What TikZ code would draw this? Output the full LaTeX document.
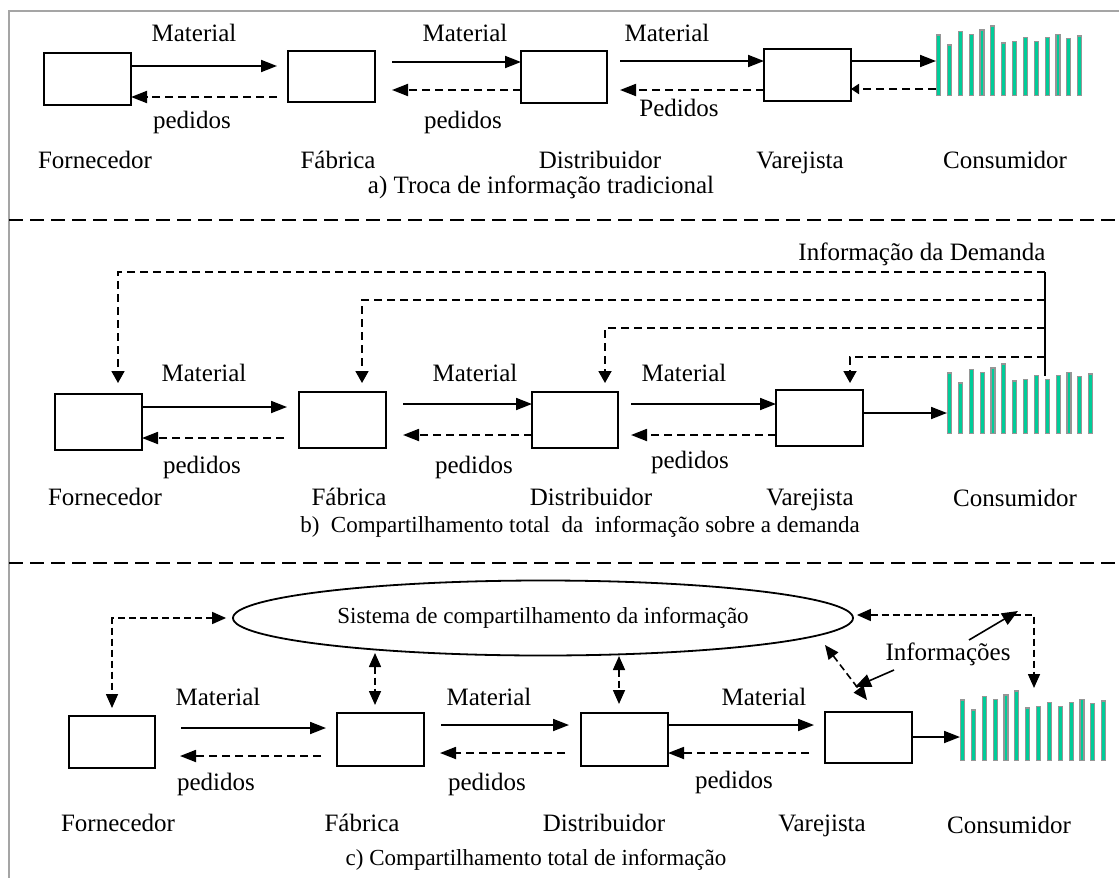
\documentclass[tikz,border=0pt]{standalone}
\usepackage{fontspec}
\setmainfont{Liberation Serif}
\usetikzlibrary{arrows.meta,calc,shapes.geometric}
\definecolor{barfill}{RGB}{0,204,153}
\definecolor{baredge}{RGB}{150,150,150}
\definecolor{framegray}{RGB}{165,165,165}

\tikzset{
  box/.style={draw, line width=1.8pt, inner sep=0pt, outer sep=0pt, anchor=north west},
  flow/.style={line width=1.8pt, -{Triangle[length=16pt,width=12pt]}},
  back/.style={flow, dash pattern=on 8pt off 5pt},
  backsmall/.style={line width=1.8pt, dash pattern=on 8pt off 5pt, -{Triangle[length=8pt,width=10pt]}},
  info/.style={line width=1.8pt, dash pattern=on 8pt off 5pt, -{Triangle[length=12pt,width=13pt]}},
  link/.style={line width=1.6pt, dash pattern=on 7pt off 4pt,
    {Triangle[length=14pt,width=12pt]}-{Triangle[length=14pt,width=12pt]}},
  note/.style={line width=1.6pt, -{Triangle[length=16pt,width=13pt]}},
  lbl/.style={font=\fontsize{25}{30}\selectfont, inner sep=0pt, text height=17pt, text depth=5pt},
  sm/.style={font=\fontsize{23}{28}\selectfont, inner sep=0pt, text height=16pt, text depth=5pt},
  sepline/.style={line width=1.8pt, dash pattern=on 14pt off 7pt},
  bar/.style={fill=barfill, draw=baredge, line width=1.2pt},
}

% consumer demand bars, left end at the given coordinate (bottom)
\newcommand\demandbars[1]{%
  \foreach \h [count=\i from 0] in {60.5,50.5,64,61,65.5,69.5,52.5,54,58,54,58,61,57,59.5}
    \draw[bar] ($(#1)+(0.6+\i*10.85,-0.6)$) rectangle ++(4,-\h);}

\begin{document}
\begin{tikzpicture}[x=1pt,y=-1pt]
\useasboundingbox (0,0) rectangle (1119,878);

% outer frame and section separators
\draw[framegray, line width=1.5pt] (9,878) -- (9,11) -- (1119,11);
\draw[sepline] (9,220) -- (1119,220);
\draw[sepline] (9,563) -- (1119,563);

% ---------------- a) traditional exchange ----------------
\node[box, minimum width=87pt, minimum height=52pt] (a1) at (44,53) {};
\node[box, minimum width=87pt, minimum height=51pt] (a2) at (288,51) {};
\node[box, minimum width=86pt, minimum height=52pt] (a3) at (521,51) {};
\node[box, minimum width=87pt, minimum height=52pt] (a4) at (764,49) {};
\coordinate (ka) at (936,96);
\demandbars{ka}

\draw[flow] (a1.east|-0,66) -- ($(a2.west|-0,66)+(-11,0)$);
\draw[back] ($(a2.west|-0,97)+(-11,0)$) -- (a1.east|-0,97);
\draw[flow] ($(a2.east|-0,62)+(17,0)$) -- (a3.west|-0,62);
\draw[back] (a3.west|-0,90) -- ($(a2.east|-0,90)+(17,0)$);
\draw[flow] ($(a3.east|-0,61)+(13,0)$) -- (a4.west|-0,61);
\draw[back] (a4.west|-0,90) -- ($(a3.east|-0,90)+(13,0)$);
\draw[flow] (a4.east|-0,61) -- (ka|-0,61);
\draw[backsmall] (ka|-0,89) -- (a4.east|-0,89);

\node[lbl] (am1) at (194,35.5) {Material};
\node[lbl] (am2) at (465,35.5) {Material};
\node[lbl] (am3) at (667,35.5) {Material};
\node[lbl] (ap1) at (192,122) {pedidos};
\node[lbl] (ap2) at (463,122) {pedidos};
\node[lbl] (ap3) at (679,110.5) {Pedidos};
\node[lbl] (an1) at (95,162.5) {Fornecedor};
\node[lbl] (an2) at (338,162.5) {Fábrica};
\node[lbl] (an3) at (600,162.5) {Distribuidor};
\node[lbl] (an4) at (800,162.5) {Varejista};
\node[lbl] (an5) at (1005,162.5) {Consumidor};
\node[lbl] (acap) at (541,187) {a) Troca de informação tradicional};

% ---------------- b) demand information shared ----------------
\node[box, minimum width=87pt, minimum height=56pt] (b1) at (55,394) {};
\node[box, minimum width=87pt, minimum height=56pt] (b2) at (299,392) {};
\node[box, minimum width=86pt, minimum height=56pt] (b3) at (532,392) {};
\node[box, minimum width=87pt, minimum height=56pt] (b4) at (776,390) {};
\coordinate (kb) at (947,434);
\demandbars{kb}

\coordinate (hub) at (1045,272);
\coordinate (hubend) at (1045,376);
\draw[line width=1.8pt] (hub) -- (hubend);
\draw[info] (hub) -| ($(b1.north west)+(63,-11)$);
\draw[info] (hub|-0,300) -| ($(b2.north west)+(63,-9)$);
\draw[info] (hub|-0,328) -| ($(b3.north west)+(73,-9)$);
\draw[info] (hub|-0,357) -| ($(b4.north west)+(74,-7)$);
\node[lbl] (demand) at (922,254) {Informação da Demanda};

\draw[flow] (b1.east|-0,407) -- ($(b2.west|-0,407)+(-12,0)$);
\draw[back] ($(b2.west|-0,438)+(-15,0)$) -- (b1.east|-0,438);
\draw[flow] ($(b2.east|-0,404)+(17,0)$) -- (b3.west|-0,404);
\draw[back] (b3.west|-0,435) -- ($(b2.east|-0,435)+(17,0)$);
\draw[flow] ($(b3.east|-0,404)+(13,0)$) -- (b4.west|-0,404);
\draw[back] (b4.west|-0,435) -- ($(b3.east|-0,435)+(13,0)$);
\draw[flow] (b4.east|-0,413) -- (kb|-0,413);

\node[lbl] (bm1) at (204,375.5) {Material};
\node[lbl] (bm2) at (475,375.5) {Material};
\node[lbl] (bm3) at (684,375.5) {Material};
\node[lbl] (bp1) at (202,467) {pedidos};
\node[lbl] (bp2) at (474,467) {pedidos};
\node[lbl] (bp3) at (690,462) {pedidos};
\node[lbl] (bn1) at (105,499.5) {Fornecedor};
\node[lbl] (bn2) at (349,499.5) {Fábrica};
\node[lbl] (bn3) at (591,499.5) {Distribuidor};
\node[lbl] (bn4) at (810,499.5) {Varejista};
\node[lbl] (bn5) at (1015,500.5) {Consumidor};
\node[sm] (bcap) at (580,527) {b)\ \ Compartilhamento total\ \ da\ \ informação sobre a demanda};

% ---------------- c) shared information system ----------------
\node[draw, ellipse, line width=1.8pt, minimum width=620pt, minimum height=75pt,
      inner sep=0pt, font=\fontsize{23}{28}\selectfont] (sys) at (543,618)
      {Sistema de compartilhamento da informação};
\node[box, minimum width=86pt, minimum height=52pt] (c1) at (69,716) {};
\node[box, minimum width=87pt, minimum height=53pt] (c2) at (337,713) {};
\node[box, minimum width=87pt, minimum height=53pt] (c3) at (581,713) {};
\node[box, minimum width=87pt, minimum height=51pt] (c4) at (825,712) {};
\coordinate (kc) at (960,761);
\demandbars{kc}

\draw[link] ($(sys.west)+(-6,0)$) -| ($(c1.north west)+(43,-8)$);
\draw[link] ($(c2.north west)+(38,-60)$) -- ($(c2.north west)+(38,-8)$);
\draw[link] ($(c3.north west)+(38,-57)$) -- ($(c3.north west)+(38,-9)$);
\draw[link] ($(sys.east)+(3,-3)$) -| ($(kc)+(74,-73)$);
\draw[link] ($(c4.north west)+(0,-67)$) -- ($(c4.north west)+(42,-12)$);

\node[lbl] (inf) at (948,654) {Informações};
\draw[note] ($(inf)+(21,-14)$) -- ($(inf)+(70,-43)$);
\draw[note] ($(inf)+(-54,16)$) -- ($(inf)+(-93,33)$);

\draw[flow] ($(c1.east|-0,728)+(26,0)$) -- ($(c2.west|-0,728)+(-11,0)$);
\draw[back] ($(c2.west|-0,756)+(-16,0)$) -- ($(c1.east|-0,756)+(25,0)$);
\draw[flow] ($(c2.east|-0,725)+(17,0)$) -- ($(c3.west|-0,725)+(-12,0)$);
\draw[back] ($(c3.west|-0,753)+(-16,0)$) -- ($(c2.east|-0,753)+(16,0)$);
\draw[flow] (c3.east|-0,725) -- ($(c4.west|-0,725)+(-11,0)$);
\draw[back] ($(c4.west|-0,753)+(-16,0)$) -- (c3.east|-0,753);
\draw[flow] (c4.east|-0,737) -- (kc|-0,737);

\node[lbl] (cm1) at (218,699.5) {Material};
\node[lbl] (cm2) at (489,699.5) {Material};
\node[lbl] (cm3) at (764,699.5) {Material};
\node[lbl] (cp1) at (216,784) {pedidos};
\node[lbl] (cp2) at (487,784) {pedidos};
\node[lbl] (cp3) at (734,782) {pedidos};
\node[lbl] (cn1) at (118,825.5) {Fornecedor};
\node[lbl] (cn2) at (362,825.5) {Fábrica};
\node[lbl] (cn3) at (604,825.5) {Distribuidor};
\node[lbl] (cn4) at (822,825.5) {Varejista};
\node[lbl] (cn5) at (1009,827.5) {Consumidor};
\node[sm] (ccap) at (536,860) {c) Compartilhamento total de informação};
\end{tikzpicture}
\end{document}
